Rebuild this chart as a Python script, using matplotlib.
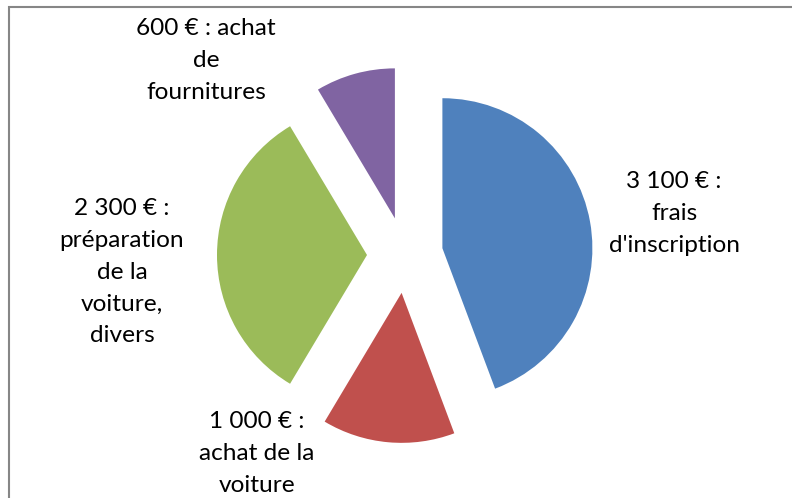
import matplotlib.pyplot as plt

# Budget split (euros)
amounts = [3100, 1000, 2300, 600]
labels = [
    "3 100 € :\nfrais\nd'inscription",
    "1 000 € :\nachat de la\nvoiture",
    "2 300 € :\npréparation\nde la\nvoiture,\ndivers",
    "600 € : achat\nde\nfournitures",
]
colors = ["#4F81BD", "#C0504D", "#9BBB59", "#8064A2"]

W, H = 792, 498
fig = plt.figure(figsize=(W / 100, H / 100), dpi=100)
ax = fig.add_axes([0, 0, 1, 1])

# exploded pie, starting at 12 o'clock, clockwise
ax.pie(amounts, colors=colors, startangle=90, counterclock=False,
       center=(405, H - 255), radius=150, explode=[38] * len(amounts),
       wedgeprops=dict(linewidth=0))

ax.set_xlim(0, W)
ax.set_ylim(0, H)
ax.set_aspect("equal")
ax.axis("off")

# label anchors: centre x, first baseline y (image pixels from top)
label_pos = [(674, 188), (257, 428), (122, 215), (206, 35)]
line_step = 31.8
for text, (x, y) in zip(labels, label_pos):
    for i, line in enumerate(text.split("\n")):
        ax.text(x, H - (y + i * line_step), line, ha="center", va="baseline",
                fontsize=17.6, family="Lato", color="black")

# chart area border (cropped on right and bottom)
ax.plot([9, 9, W + 5], [-5, H - 7.3, H - 7.3], color="#868686", lw=1.5,
        solid_joinstyle="miter", clip_on=False)

fig.savefig("out.png", dpi=100)
